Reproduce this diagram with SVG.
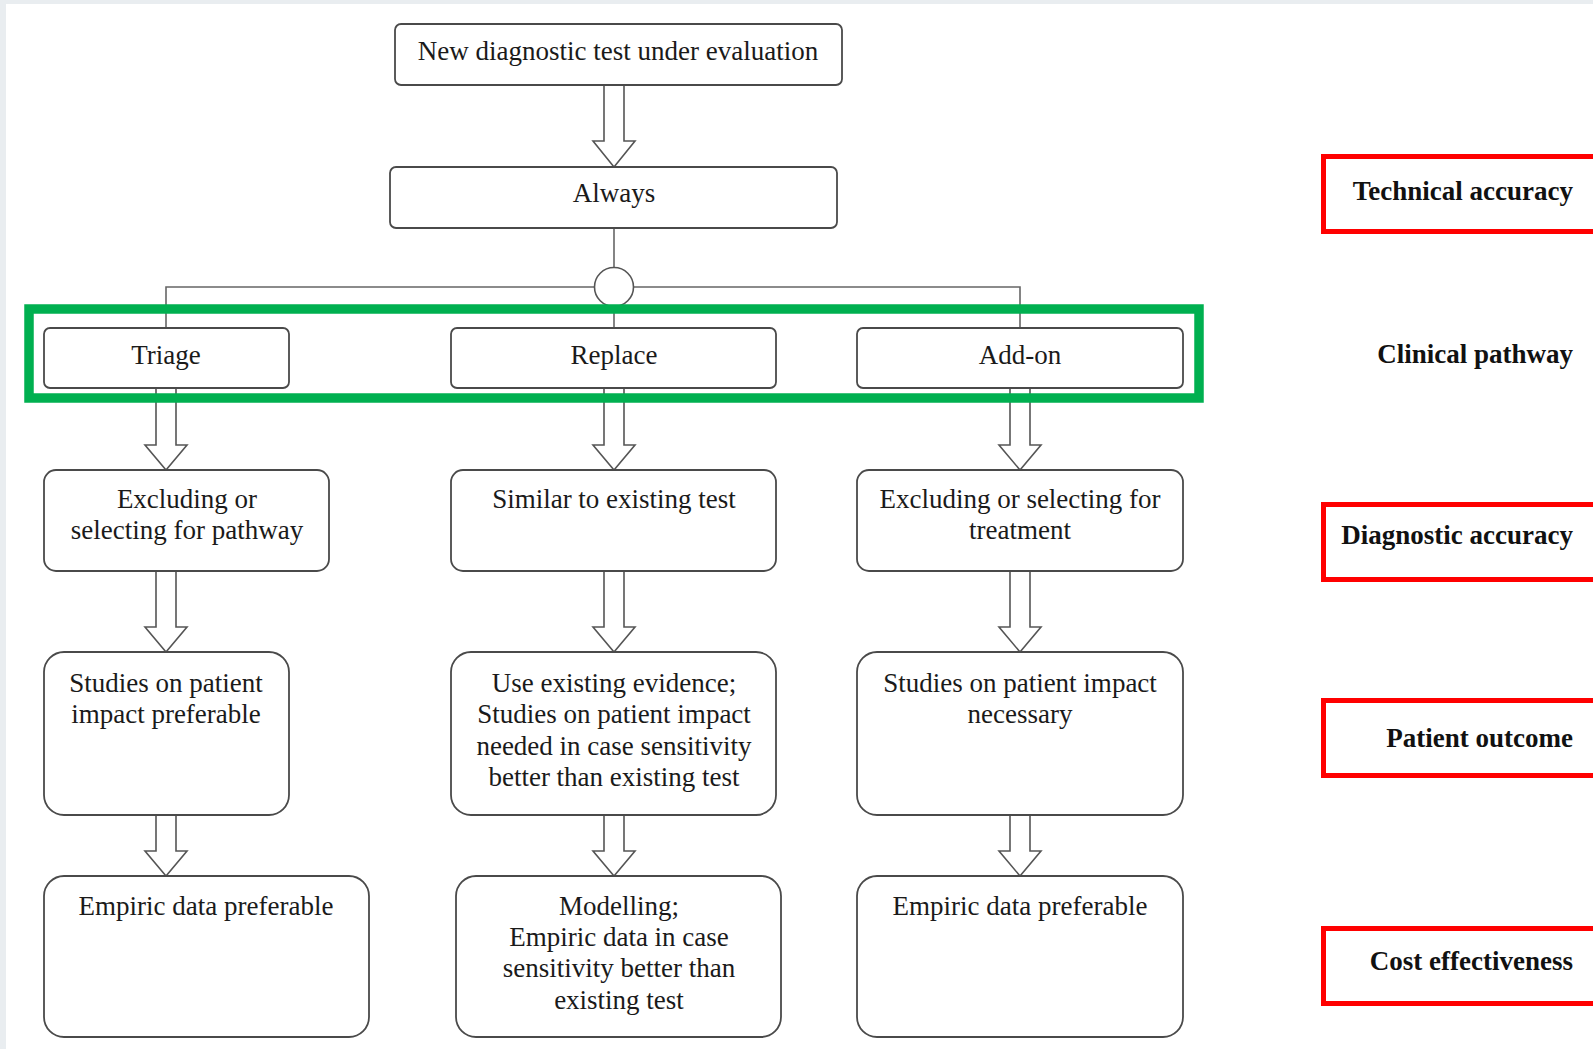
<svg xmlns="http://www.w3.org/2000/svg" width="1593" height="1049" viewBox="0 0 1593 1049">
<style>
.box{fill:#fff;stroke:#4a4a4a;stroke-width:1.8}
.t{font-family:"Liberation Serif","Times New Roman",serif;font-size:27px;fill:#1a1a1a;text-anchor:middle}
.lab{font-family:"Liberation Serif","Times New Roman",serif;font-size:27px;font-weight:bold;fill:#111;text-anchor:end}
.red{fill:none;stroke:#ff0000;stroke-width:5}
.arr{fill:#fff;stroke:#555;stroke-width:1.6;stroke-linejoin:miter}
.con{fill:none;stroke:#666;stroke-width:1.6}
</style>
<rect x="0" y="0" width="1593" height="1049" fill="#e9edf0"/>
<rect x="6" y="4" width="1587" height="1045" fill="#fff"/>

<g id="connectors">
<path class="con" d="M614 228 V268"/>
<path class="con" stroke="#888" d="M166 328 V287 H1020 V328"/>
<path class="con" d="M614 306 V328"/>
<circle cx="614" cy="287" r="19.5" fill="#fff" stroke="#555" stroke-width="1.6"/>
<path class="arr" d="M604 85 V141 H593 L614 167 L635 141 H624 V85 Z"/>
<path class="arr" d="M156 388 V445 H145 L166 470 L187 445 H176 V388 Z"/>
<path class="arr" d="M604 388 V445 H593 L614 470 L635 445 H624 V388 Z"/>
<path class="arr" d="M1010 388 V445 H999 L1020 470 L1041 445 H1030 V388 Z"/>
<path class="arr" d="M156 571 V627 H145 L166 652 L187 627 H176 V571 Z"/>
<path class="arr" d="M604 571 V627 H593 L614 652 L635 627 H624 V571 Z"/>
<path class="arr" d="M1010 571 V627 H999 L1020 652 L1041 627 H1030 V571 Z"/>
<path class="arr" d="M156 815 V851 H145 L166 876 L187 851 H176 V815 Z"/>
<path class="arr" d="M604 815 V851 H593 L614 876 L635 851 H624 V815 Z"/>
<path class="arr" d="M1010 815 V851 H999 L1020 876 L1041 851 H1030 V815 Z"/>
</g>

<g id="n-new"><rect class="box" x="395" y="24" width="447" height="61" rx="6"/><text class="t" x="618" y="60">New diagnostic test under evaluation</text></g>
<g id="n-always"><rect class="box" x="390" y="167" width="447" height="61" rx="6"/><text class="t" x="614" y="202">Always</text></g>

<g id="n-triage"><rect class="box" x="44" y="328" width="245" height="60" rx="6"/><text class="t" x="166" y="364">Triage</text></g>
<g id="n-replace"><rect class="box" x="451" y="328" width="325" height="60" rx="6"/><text class="t" x="614" y="364">Replace</text></g>
<g id="n-addon"><rect class="box" x="857" y="328" width="326" height="60" rx="6"/><text class="t" x="1020" y="364">Add-on</text></g>

<g id="green-highlight"><rect x="29" y="309" width="1170" height="89" fill="none" stroke="#00b050" stroke-width="9.5"/></g>

<g id="n-excl-path"><rect class="box" x="44" y="470" width="285" height="101" rx="12"/><text class="t" x="187" y="508">Excluding or</text><text class="t" x="187" y="539">selecting for pathway</text></g>
<g id="n-similar"><rect class="box" x="451" y="470" width="325" height="101" rx="12"/><text class="t" x="614" y="508">Similar to existing test</text></g>
<g id="n-excl-treat"><rect class="box" x="857" y="470" width="326" height="101" rx="12"/><text class="t" x="1020" y="508">Excluding or selecting for</text><text class="t" x="1020" y="539">treatment</text></g>

<g id="n-studies-pref"><rect class="box" x="44" y="652" width="245" height="163" rx="20"/><text class="t" x="166" y="692">Studies on patient</text><text class="t" x="166" y="723">impact preferable</text></g>
<g id="n-use-existing"><rect class="box" x="451" y="652" width="325" height="163" rx="20"/><text class="t" x="614" y="692">Use existing evidence;</text><text class="t" x="614" y="723">Studies on patient impact</text><text class="t" x="614" y="755">needed in case sensitivity</text><text class="t" x="614" y="786">better than existing test</text></g>
<g id="n-studies-nec"><rect class="box" x="857" y="652" width="326" height="163" rx="20"/><text class="t" x="1020" y="692">Studies on patient impact</text><text class="t" x="1020" y="723">necessary</text></g>

<g id="n-empiric-1"><rect class="box" x="44" y="876" width="325" height="161" rx="20"/><text class="t" x="206" y="915">Empiric data preferable</text></g>
<g id="n-modelling"><rect class="box" x="456" y="876" width="325" height="161" rx="20"/><text class="t" x="619" y="915">Modelling;</text><text class="t" x="619" y="946">Empiric data in case</text><text class="t" x="619" y="977">sensitivity better than</text><text class="t" x="619" y="1009">existing test</text></g>
<g id="n-empiric-3"><rect class="box" x="857" y="876" width="326" height="161" rx="20"/><text class="t" x="1020" y="915">Empiric data preferable</text></g>

<g id="label-technical"><rect class="red" x="1323.5" y="156.5" width="300" height="75"/><text class="lab" x="1573" y="200">Technical accuracy</text></g>
<g id="label-clinical"><text class="lab" x="1573" y="363">Clinical pathway</text></g>
<g id="label-diagnostic"><rect class="red" x="1323.5" y="504.5" width="300" height="75"/><text class="lab" x="1573" y="544">Diagnostic accuracy</text></g>
<g id="label-patient"><rect class="red" x="1323.5" y="700.5" width="300" height="75"/><text class="lab" x="1573" y="747">Patient outcome</text></g>
<g id="label-cost"><rect class="red" x="1323.5" y="928.5" width="300" height="75"/><text class="lab" x="1573" y="970">Cost effectiveness</text></g>
</svg>
